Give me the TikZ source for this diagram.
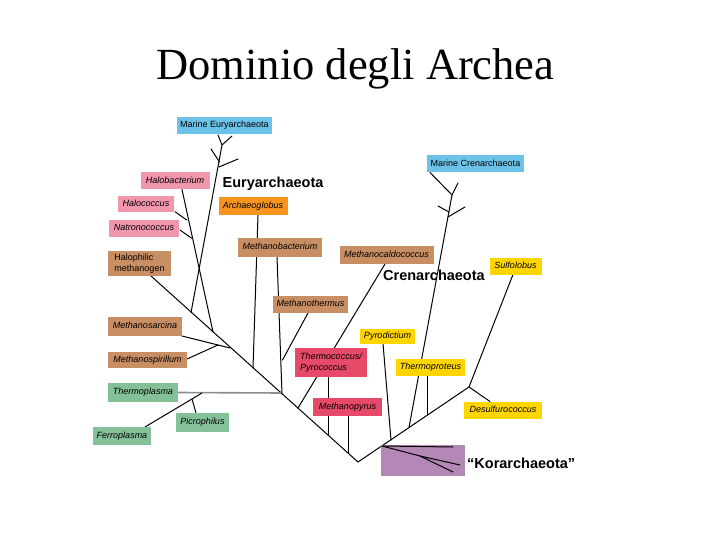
\documentclass[tikz,border=0pt]{standalone}
\usepackage{fontspec}
\setmainfont{Liberation Serif}
\newfontfamily\labfont{Liberation Sans}
\usetikzlibrary{backgrounds}
\definecolor{marine}{RGB}{108,194,232}
\definecolor{halo}{RGB}{242,150,172}
\definecolor{archo}{RGB}{247,148,30}
\definecolor{methano}{RGB}{201,143,100}
\definecolor{thermo}{RGB}{132,193,152}
\definecolor{pyro}{RGB}{230,74,104}
\definecolor{creny}{RGB}{255,213,0}
\definecolor{kora}{RGB}{179,136,183}
\begin{document}
\begin{tikzpicture}[x=1pt,y=-1pt,
    box/.style={rectangle, inner sep=0pt, font=\labfont\fontsize{9}{11.5}\selectfont\itshape, text height=6.6pt, text depth=1.9pt},
    sz/.style 2 args={minimum width=#1pt, minimum height=#2pt},
    mar/.style={box, fill=marine, font=\labfont\fontsize{9}{11.5}\selectfont},
    hal/.style={box, fill=halo},
    arc/.style={box, fill=archo},
    met/.style={box, fill=methano},
    tpl/.style={box, fill=thermo},
    pyr/.style={box, fill=pyro},
    cre/.style={box, fill=creny},
    two/.style={text height=, text depth=, align=left},
    grp/.style={font=\labfont\bfseries\fontsize{14.5}{16}\selectfont, anchor=base west, inner sep=0pt},
    br/.style={line width=1pt, line cap=round}]
  \useasboundingbox (0,0) rectangle (720,540);
  \node[anchor=base, inner sep=0pt, font=\fontsize{44.5}{50}\selectfont] (title) at (355.5,79.5) {Dominio degli Archea};
  % Euryarchaeota side
  \node[mar, sz={95}{17}] (meury) at (224.5,125.5) {Marine Euryarchaeota};
  \node[hal, sz={69}{17}] (halob) at (175,181) {Halobacterium};
  \node[hal, sz={56}{16}] (haloc) at (146,204) {Halococcus};
  \node[hal, sz={70}{17}] (natro) at (144,228.5) {Natronococcus};
  \node[met, two, font=\labfont\fontsize{9}{11.5}\selectfont, sz={63}{25}] (halme) at (139.5,263.5) {Halophilic\\methanogen};
  \node[arc, sz={69}{18}] (archg) at (253,206) {Archaeoglobus};
  \node[met, sz={84}{19}] (mbact) at (280,247.5) {Methanobacterium};
  \node[met, sz={94}{18}] (mcald) at (386.5,255) {Methanocaldococcus};
  \node[met, sz={75}{17}] (mtherm) at (310.5,304.5) {Methanothermus};
  \node[met, sz={74}{19}] (msarc) at (145,326.5) {Methanosarcina};
  \node[met, sz={79}{16}] (mspir) at (147.5,360) {Methanospirillum};
  \node[tpl, sz={70}{19}] (tplas) at (143,392.5) {Thermoplasma};
  \node[tpl, sz={53}{19}] (picro) at (202.5,422.5) {Picrophilus};
  \node[tpl, sz={58}{18}] (ferro) at (122,436) {Ferroplasma};
  \node[pyr, two, sz={72}{29}] (tcocc) at (331,362.5) {Thermococcus/\\Pyrococcus};
  \node[pyr, sz={69}{18}] (mpyr) at (347.5,407) {Methanopyrus};
  % Crenarchaeota side
  \node[mar, sz={97}{17}] (mcren) at (475.5,164) {Marine Crenarchaeota};
  \node[cre, sz={52}{17}] (sulfo) at (515.5,266) {Sulfolobus};
  \node[cre, sz={55}{15}] (pyrod) at (387.5,336) {Pyrodictium};
  \node[cre, sz={69}{17}] (tprot) at (430.5,367.5) {Thermoproteus};
  \node[cre, sz={78}{17}] (desul) at (503,410) {Desulfurococcus};
  \node[box, fill=kora, sz={84}{31}] (korbox) at (422.5,460.5) {};
  \node[grp] (eury) at (222.5,187.5) {Euryarchaeota};
  \node[grp] (cren) at (383,280) {Crenarchaeota};
  \node[grp] (kora) at (467,468) {“Korarchaeota”};
  % junctions
  \coordinate (root) at (358,462);
  \coordinate (cj) at (469,387);
  \coordinate (hmT) at (151,276);
  \coordinate (mej) at (191,312.7);
  \coordinate (meT) at (222,145);
  \coordinate (halj) at (213,332);
  \coordinate (msj) at (230,348);
  \coordinate (msk) at (218,345);
  \coordinate (arj) at (253,368);
  \coordinate (mtj) at (282,394);
  \coordinate (mtk) at (282.5,360);
  \coordinate (tpj) at (281,393);
  \coordinate (fj) at (202,393);
  \coordinate (pk) at (192,399);
  \coordinate (mcj) at (298,408);
  \coordinate (tcj) at (328,435);
  \coordinate (mpj) at (348,453);
  \coordinate (kj) at (382,446);
  \coordinate (kk) at (420,456);
  \coordinate (pyj) at (391,440);
  \coordinate (crj) at (409,427.5);
  \coordinate (crT) at (452,195);
  \coordinate (tpr) at (427,415);
  \begin{scope}[on background layer]
    \draw[br] (hmT) -- (root) -- (cj) -- (513,274.5);
    \draw[br] (cj) -- (490,401.5);
    % Euryarchaeota branches
    \draw[br] (mej) -- (meT) -- (218,135);
    \draw[br] (meT) -- (232,136);
    \draw[br] (211,149) -- (219.5,162);
    \draw[br] (238,159) -- (219,167);
    \draw[br] (halj) -- (182,189.5);
    \draw[br] (175,211.7) -- (186.7,220);
    \draw[br] (180,230) -- (191.7,238.3);
    \draw[br] (msj) -- (182,336);
    \draw[br] (msk) -- (187,359);
    \draw[br] (arj) -- (258,215);
    \draw[br] (mtj) -- (277,257);
    \draw[br] (mtk) -- (308,313);
    \draw[line width=1.6pt, black!45] (tplas.east) -- (tpj);
    \draw[br] (145,427) -- (fj);
    \draw[br] (pk) -- (196,413);
    \draw[br] (mcj) -- (385,264);
    \draw[br] (tcj) -- (328,377);
    \draw[br] (mpj) -- (348,416);
    % Crenarchaeota branches
    \draw[br] (pyj) -- (383,343.5);
    \draw[br] (crj) -- (crT) -- (430,172.5);
    \draw[br] (crT) -- (458,183);
    \draw[br] (438,206) -- (449,212);
    \draw[br] (465,207) -- (448,217);
    \draw[br] (tpr) -- (427,376);
  \end{scope}
  % Korarchaeota
  \draw[br] (kj) -- (453,447);
  \draw[br] (kj) -- (kk) -- (460,465);
  \draw[br] (kk) -- (453,472);
\end{tikzpicture}
\end{document}
